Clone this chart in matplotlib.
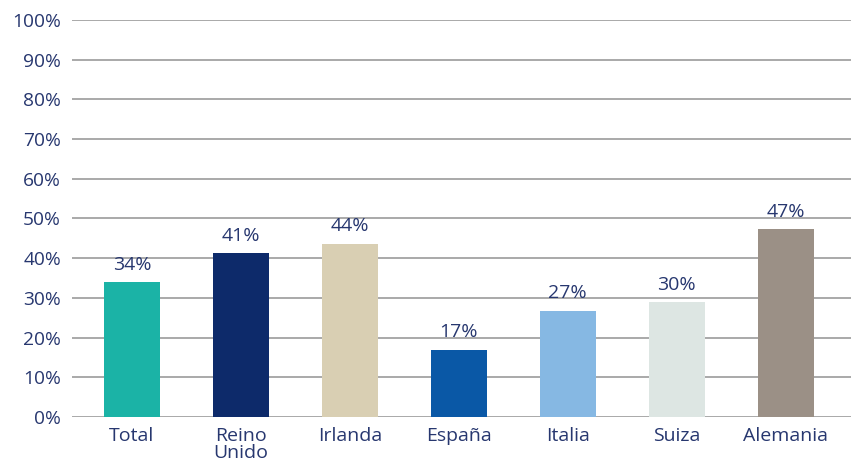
import matplotlib
matplotlib.use("Agg")
import matplotlib.pyplot as plt
from matplotlib.ticker import FuncFormatter

categories = ["Total", "Reino\nUnido", "Irlanda", "España", "Italia", "Suiza", "Alemania"]
values = [34, 41.2, 43.7, 17, 26.8, 29, 47.3]
labels = ["34%", "41%", "44%", "17%", "27%", "30%", "47%"]
colors = ["#1bb3a6", "#0d2a6a", "#d9cfb3", "#0a58a6", "#86b8e3", "#dde6e3", "#9b9086"]

text_color = "#27376f"
plt.rcParams['font.family'] = ["Open Sans", "DejaVu Sans"]

fig = plt.figure(figsize=(8.51, 4.63), dpi=100)
ax = fig.add_axes([72/851, 46/463, 1 - 72/851, 397/463])

x = range(len(categories))
bars = ax.bar(x, values, width=0.515, color=colors, zorder=3)

ax.set_ylim(0, 100)
ax.set_xlim(-0.55, 6.6)
ax.set_yticks(range(0, 101, 10))
ax.yaxis.set_major_formatter(FuncFormatter(lambda v, p: f"{int(v)}%"))
ax.grid(axis="y", color="#a3a3a3", linewidth=1.3, zorder=0)
ax.set_axisbelow(True)
for s in ax.spines.values():
    s.set_visible(False)
ax.tick_params(axis="y", length=0, pad=8, labelsize=13.8, labelcolor=text_color)
ax.tick_params(axis="x", length=0, pad=7.5, labelsize=14, labelcolor=text_color)
ax.set_xticks(list(x))
ax.set_xticklabels(categories, linespacing=0.92)

for xi, v, lab in zip(x, values, labels):
    ax.annotate(lab, (xi, v), xytext=(0, 6), textcoords="offset points",
                ha="center", va="bottom", fontsize=14, color=text_color)

fig.savefig("out.png", dpi=100)
